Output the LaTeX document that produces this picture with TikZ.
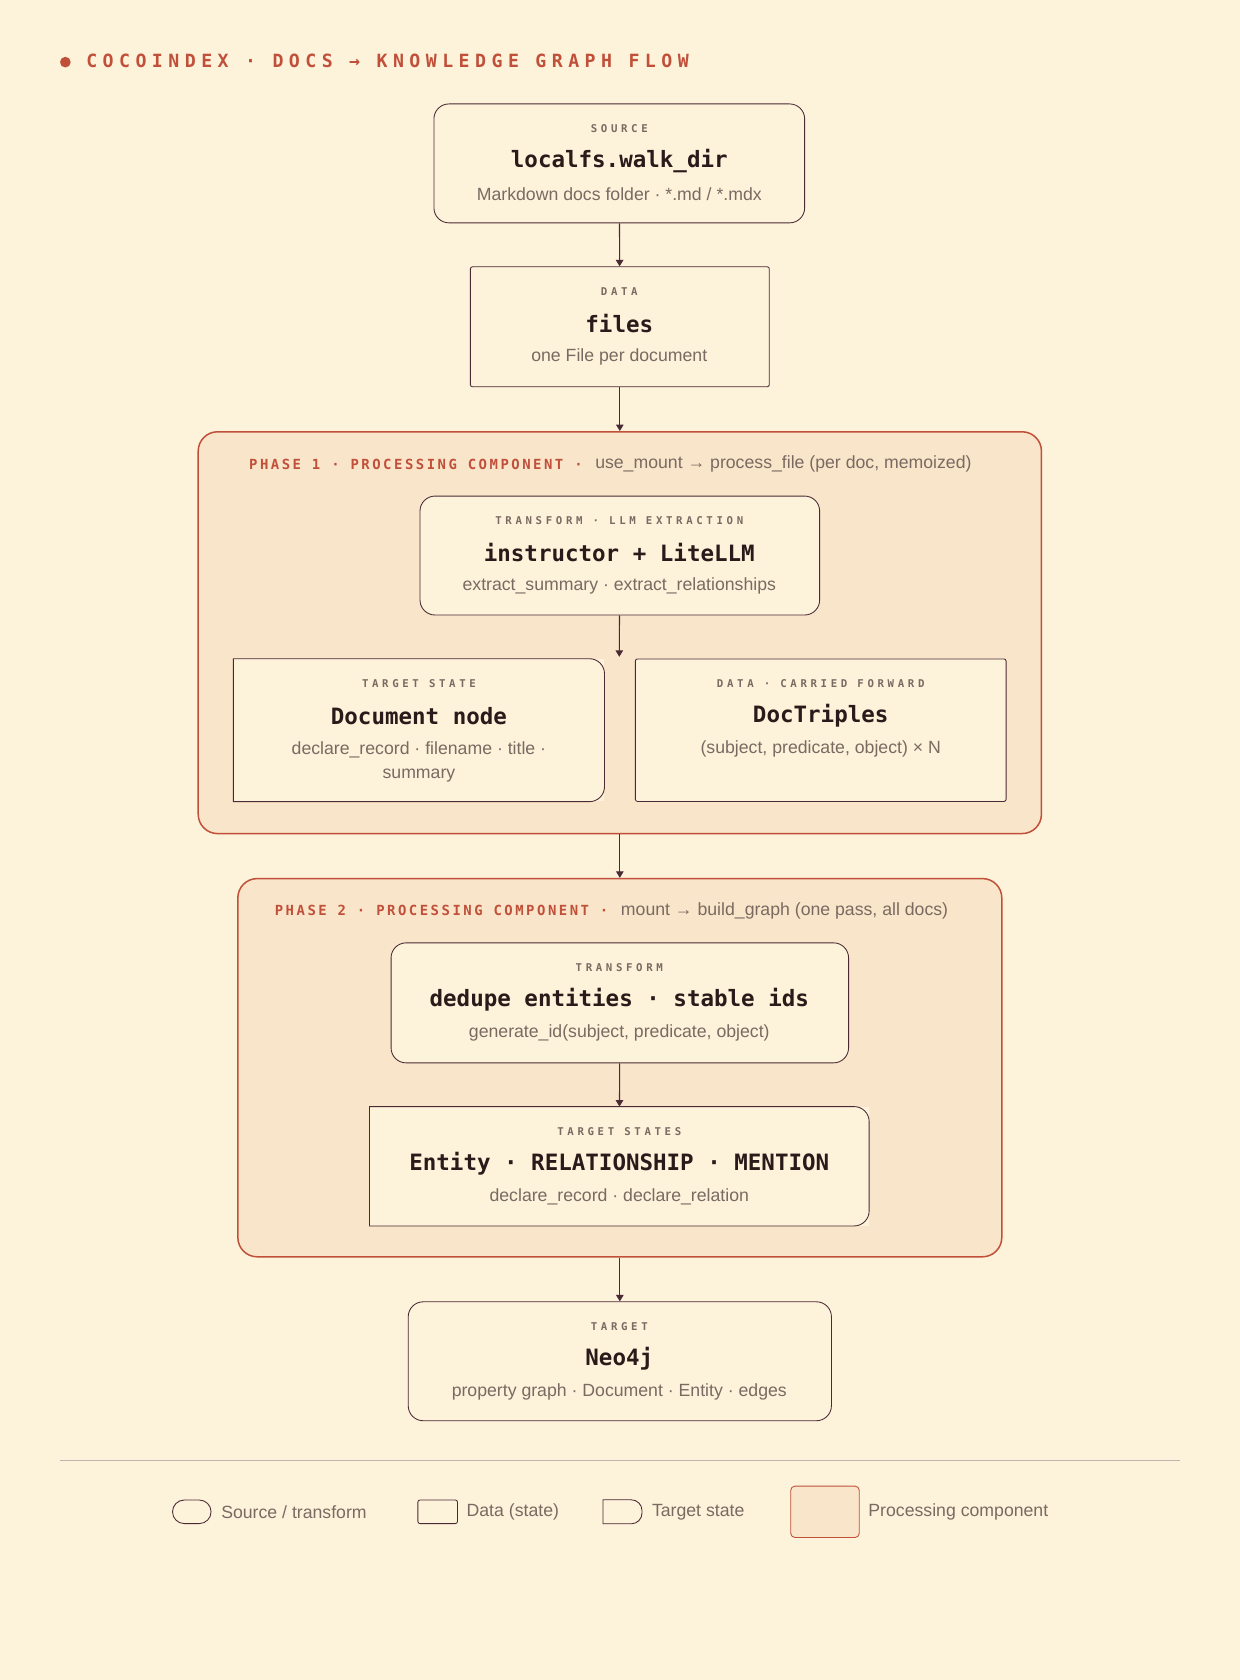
\documentclass[tikz,border=0pt]{standalone}
\usepackage{fontspec}
\setmainfont{Liberation Sans}
\newfontfamily\codefont{DejaVu Sans Mono}
\newfontfamily\tagfont[LetterSpace=34]{DejaVu Sans Mono}
\newfontfamily\headfont[LetterSpace=18]{DejaVu Sans Mono}
\newfontfamily\titlefont[LetterSpace=30]{DejaVu Sans Mono}
\usetikzlibrary{arrows.meta,positioning}
\definecolor{paper}{HTML}{FDF2DA}
\definecolor{phasefill}{HTML}{F9E5C9}
\definecolor{rust}{HTML}{C0503A}
\definecolor{plum}{HTML}{4A2A35}
\definecolor{ink}{HTML}{2A1A1A}
\definecolor{muted}{HTML}{7A6A62}
\tikzset{%
  tipA/.tip={Triangle[length=6pt,width=7pt]},
  flow/.style={draw=plum, line width=1pt, -tipA},
  srcbox/.style={draw=plum, fill=paper, line width=0.8pt, rounded corners=14pt},
  databox/.style={draw=plum, fill=paper, line width=0.8pt, rounded corners=2pt},
  tgtbox/.style={draw=none, fill=paper},
  phasebox/.style={draw=rust, fill=phasefill, line width=1.4pt, rounded corners=18pt},
  tag/.style={text=muted, font=\tagfont\bfseries\fontsize{10}{12}\selectfont},
  code/.style={text=ink, font=\codefont\bfseries\fontsize{21}{24}\selectfont},
  sub/.style={text=muted, font=\fontsize{16.5}{22}\selectfont, align=center},
  leg/.style={text=muted, font=\fontsize{16.5}{20}\selectfont, anchor=west}
}
% target-state outline: square left, rounded right
\newcommand{\tgtframe}[2][14pt]{%
  \draw[plum, line width=0.8pt] (#2.north west) [rounded corners=#1] -- (#2.north east)
    -- (#2.south east) [sharp corners] -- (#2.south west) -- cycle;}
\newcommand{\boxtext}[5]{% node, y of tag, tag, code, sub
  \node[tag] at (578+0*#2,#2) {};}
\begin{document}
\begin{tikzpicture}[x=1pt,y=-1pt]
\fill[paper] (0,0) rectangle (1157,1568);
\useasboundingbox (0,0) rectangle (1157,1568);
% title
\fill[rust] (61,58) circle (5);
\node[anchor=west, text=rust, font=\titlefont\bfseries\fontsize{17}{20}\selectfont] at (77,57)
  {COCOINDEX · DOCS → KNOWLEDGE GRAPH FLOW};
% source and data
\node[srcbox, minimum width=346, minimum height=111] (src) at (578,152.5) {};
\node[tag] at (578,120) {SOURCE};
\node[code] at (578,150) {localfs.walk\_dir};
\node[sub] at (578,181) {Markdown docs folder · *.md / *.mdx};
\node[databox, minimum width=279, minimum height=112] (files) at (578.5,305) {};
\node[tag] at (578,272) {DATA};
\node[code] at (578,302) {files};
\node[sub] at (578,333) {one File per document};
% phase 1
\node[phasebox, minimum width=787, minimum height=375] (ph1) at (578.5,590.5) {};
\node[anchor=west, text=rust, font=\headfont\bfseries\fontsize{13}{16}\selectfont] (ph1head) at (229,433)
  {PHASE 1 · PROCESSING COMPONENT ·};
\node[sub, anchor=west, inner sep=0pt] at ([xshift=8]ph1head.east) {use\_mount → process\_file (per doc, memoized)};
\node[srcbox, minimum width=373, minimum height=111] (llm) at (578.5,518.5) {};
\node[tag] at (578,486) {TRANSFORM · LLM EXTRACTION};
\node[code] at (578,516) {instructor + LiteLLM};
\node[sub] at (578,547) {extract\_summary · extract\_relationships};
\node[tgtbox, minimum width=346, minimum height=133] (docnode) at (391,681.5) {};
\tgtframe{docnode}
\node[tag] at (391,638) {TARGET STATE};
\node[code] at (391,668) {Document node};
\node[sub] at (391,711) {declare\_record · filename · title ·\\summary};
\node[databox, minimum width=346, minimum height=133] (triples) at (766,681.5) {};
\node[tag] at (766,638) {DATA · CARRIED FORWARD};
\node[code] at (766,668) {DocTriples};
\node[sub] at (766,699) {(subject, predicate, object) × N};
\coordinate (split) at (578,613);
% phase 2
\node[phasebox, minimum width=713, minimum height=353] (ph2) at (578.5,996.5) {};
\node[anchor=west, text=rust, font=\headfont\bfseries\fontsize{13}{16}\selectfont] (ph2head) at (253,850)
  {PHASE 2 · PROCESSING COMPONENT ·};
\node[sub, anchor=west, inner sep=0pt] at ([xshift=8]ph2head.east) {mount → build\_graph (one pass, all docs)};
\node[srcbox, minimum width=427, minimum height=112] (dedupe) at (578.5,936) {};
\node[tag] at (578,903) {TRANSFORM};
\node[code] at (578,933) {dedupe entities · stable ids};
\node[sub] at (578,964) {generate\_id(subject, predicate, object)};
\node[tgtbox, minimum width=466, minimum height=111] (states) at (578,1088.5) {};
\tgtframe{states}
\node[tag] at (578,1056) {TARGET STATES};
\node[code] at (578,1086) {Entity · RELATIONSHIP · MENTION};
\node[sub] at (578,1117) {declare\_record · declare\_relation};
% target
\node[srcbox, minimum width=395, minimum height=111] (neo) at (578.5,1270.5) {};
\node[tag] at (578,1238) {TARGET};
\node[code] at (578,1268) {Neo4j};
\node[sub] at (578,1299) {property graph · Document · Entity · edges};
% connectors
\draw[flow] (src) -- (files);
\draw[flow] (files) -- (ph1);
\draw[flow] (llm) -- (split);
\draw[flow] (ph1) -- (ph2);
\draw[flow] (dedupe) -- (states);
\draw[flow] (ph2) -- (neo);
% legend
\draw[muted!50, line width=0.6pt] (56,1363) -- (1101,1363);
\node[srcbox, minimum width=36, minimum height=22, rounded corners=11pt] (lsrc) at (179,1411) {};
\node[leg] at (203,1411) {Source / transform};
\node[databox, minimum width=37, minimum height=22] (ldata) at (408.5,1411) {};
\node[leg] at (432,1411) {Data (state)};
\node[tgtbox, minimum width=36, minimum height=22] (ltgt) at (581,1411) {};
\tgtframe[10pt]{ltgt}
\node[leg] at (605,1411) {Target state};
\node[draw=rust, fill=phasefill, line width=0.8pt, rounded corners=4pt, minimum width=64, minimum height=48] (lphase) at (770,1411) {};
\node[leg] at (807,1411) {Processing component};
\end{tikzpicture}
\end{document}
